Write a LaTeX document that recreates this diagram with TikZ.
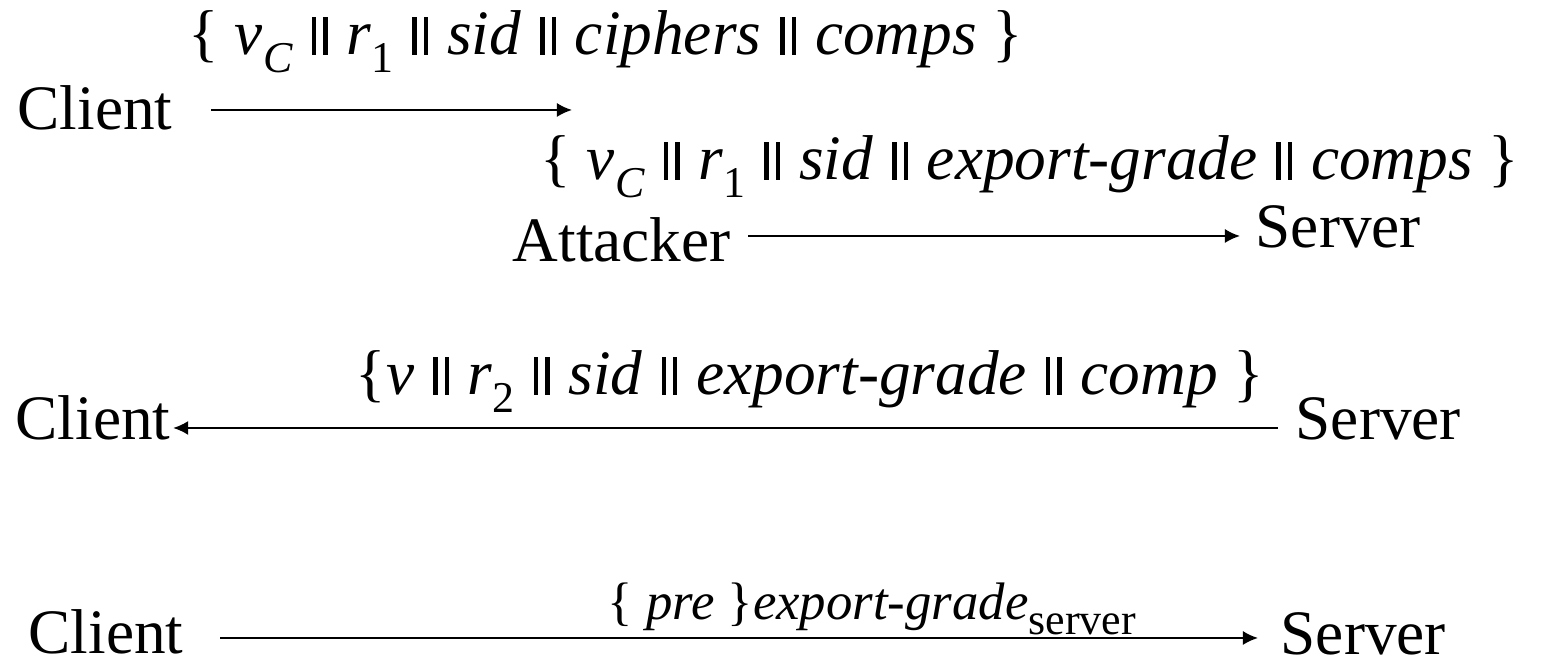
\documentclass[tikz,border=0pt]{standalone}
\usepackage{fontspec}
\setmainfont{Liberation Serif}[ItalicFont={Liberation Serif Italic}]
\usetikzlibrary{positioning,arrows.meta}
\newcommand{\cc}{\hspace{0.3em}\rule{0.07em}{0.6em}\hspace{0.11em}\rule{0.07em}{0.6em}\hspace{0.3em}}
\newcommand{\lo}[1]{\raisebox{-0.28em}{\fontsize{12.5}{12.5}\selectfont #1}}

\begin{document}
\begin{tikzpicture}[x=0.01cm,y=-0.01cm,>={Latex[length=1.5mm,width=1.4mm]},
  actor/.style={inner sep=0,anchor=base west,font=\fontsize{18}{18}\selectfont},
  msg/.style={inner sep=0,anchor=base west,font=\fontsize{18}{18}\selectfont},
  smsg/.style={inner sep=0,anchor=base west,font=\fontsize{15}{15}\selectfont},
  flow/.style={->,line width=0.55pt}]
  \useasboundingbox (0,0) rectangle (1556,665);
  % client hello, forwarded by the attacker
  \node[actor] (c1) at (17,130) {Client};
  \node[msg] (m1) at (188,55) {\{ \textit{v}\lo{\textit{C}}\cc\textit{r}\lo{1}\cc\textit{sid}\cc\textit{ciphers}\cc\textit{comps} \}};
  \coordinate (e1) at (572,110);
  \draw[flow] (c1.east |- e1) ++(38,0) -- (e1);
  \node[msg] (m2) at (540,180) {\{ \textit{v}\lo{\textit{C}}\cc\textit{r}\lo{1}\cc\textit{sid}\cc\textit{export-grade}\cc\textit{comps} \}};
  \node[actor] (atk) at (512,262) {Attacker};
  \node[actor] (s2) at (1255,248) {Server};
  \coordinate (y2) at (0,236);
  \draw[flow,shorten <=1.7mm,shorten >=1.5mm] (atk.east |- y2) -- (s2.west |- y2);
  % server hello
  \node[msg] (m3) at (355,395) {\{\textit{v}\cc\textit{r}\lo{2}\cc\textit{sid}\cc\textit{export-grade}\cc\textit{comp} \}};
  \node[actor] (c3) at (15,440) {Client};
  \node[actor] (s3) at (1295,440) {Server};
  \coordinate (y3) at (0,428);
  \draw[flow,shorten <=1.7mm,shorten >=0.2mm] (s3.west |- y3) -- (c3.east |- y3);
  % key exchange
  \node[smsg] (m4) at (607,620) {\{ \textit{pre} \}\textit{export-grade}\lo{server}};
  \node[actor] (c4) at (28,654) {Client};
  \node[actor] (s4) at (1280,655) {Server};
  \coordinate (y4) at (0,638);
  \draw[flow,shorten <=3.6mm,shorten >=2.2mm] (c4.east |- y4) -- (s4.west |- y4);
\end{tikzpicture}
\end{document}
